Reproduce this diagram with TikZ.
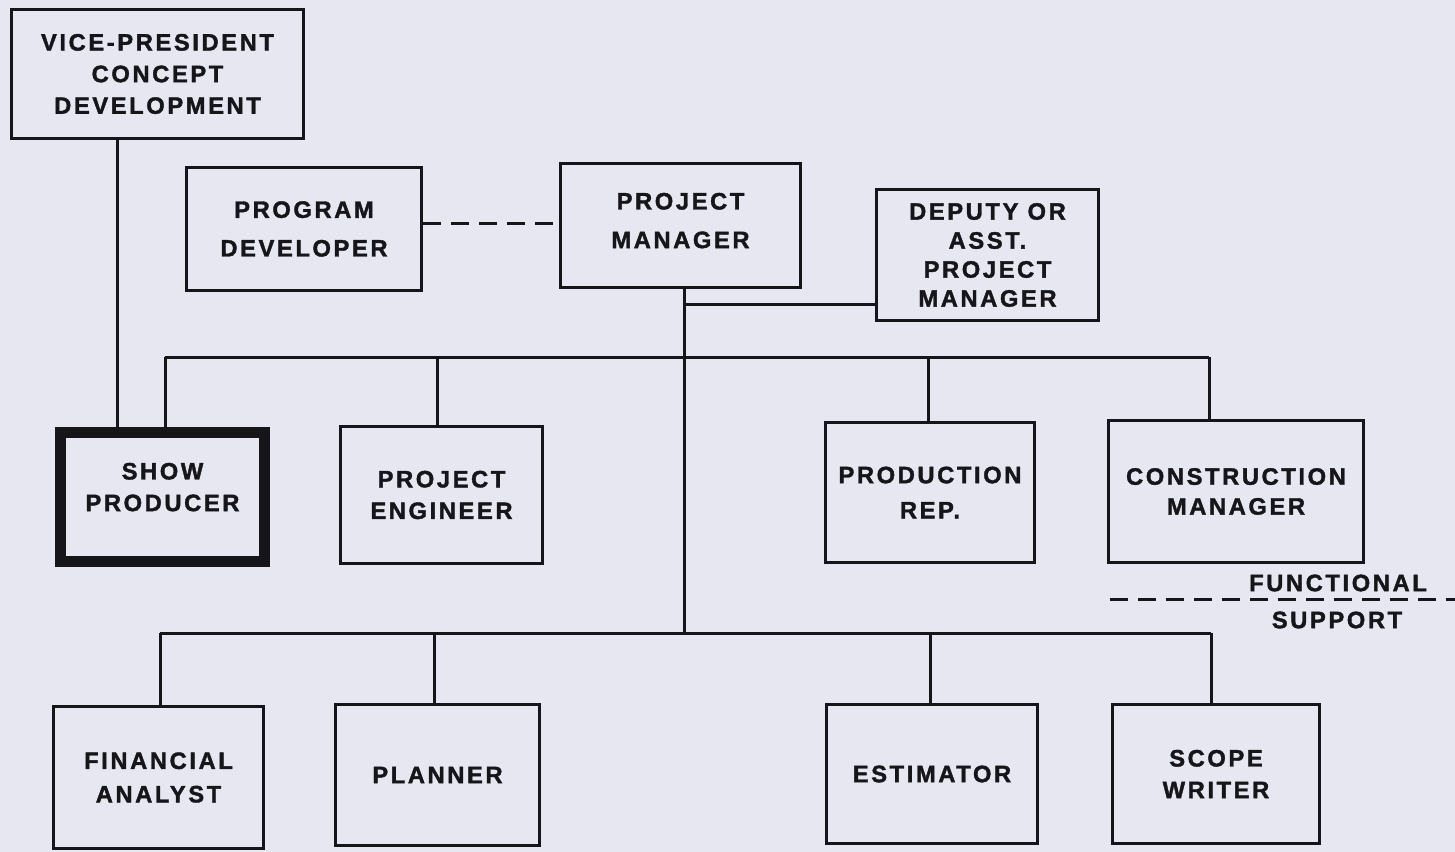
\documentclass[tikz,border=0pt]{standalone}
\usepackage{fontspec}
\setmainfont{Liberation Sans}[LetterSpace=11, BoldFeatures={FakeBold=1.6}]
\usetikzlibrary{positioning}
\definecolor{pagebg}{RGB}{230,231,241}
\definecolor{inkline}{RGB}{22,22,26}

\begin{document}
\begin{tikzpicture}[x=0.02cm, y=-0.02cm,
  post/.style={draw=inkline, line width=0.06cm, align=center, inner sep=0pt,
    font=\fontsize{13.5}{18}\selectfont\bfseries, text=inkline},
  chief/.style={post, line width=0.22cm},
  link/.style={draw=inkline, line width=0.06cm},
  dashlink/.style={link, dash pattern=on 0.36cm off 0.2cm},
  tag/.style={font=\fontsize{13.5}{18}\selectfont\bfseries, text=inkline, inner sep=0pt}]

  % page
  \fill[pagebg] (0,0) rectangle (1455,852);
  \useasboundingbox (0,0) rectangle (1455,852);

  % -- top level --
  \node[post, minimum width=5.84cm, minimum height=2.58cm] (vp) at (157.5,74)
    {VICE-PRESIDENT\\CONCEPT\\DEVELOPMENT};
  \node[post, minimum width=4.70cm, minimum height=2.46cm] (progdev) at (304,229)
    {PROGRAM\\[4pt]DEVELOPER};
  \node[post, minimum width=4.80cm, minimum height=2.48cm, text depth=0.2cm]
    (projmgr) at (680.5,225.5) {PROJECT\\[4pt]MANAGER};
  \node[post, minimum width=4.44cm, minimum height=2.62cm] (deputy) at (987.5,255)
    {DEPUTY OR\\[-1.5pt]ASST.\\[-1.5pt]PROJECT\\[-1.5pt]MANAGER};

  % -- middle row --
  \node[chief, minimum width=4.08cm, minimum height=2.58cm, text depth=0.4cm]
    (producer) at (162.5,497) {SHOW\\PRODUCER};
  \node[post, minimum width=4.04cm, minimum height=2.74cm] (projeng) at (441.5,495)
    {PROJECT\\ENGINEER};
  \node[post, minimum width=4.18cm, minimum height=2.80cm] (prodrep) at (930,492.5)
    {PRODUCTION\\[2pt]REP.};
  \node[post, minimum width=5.10cm, minimum height=2.84cm] (constr) at (1236,491.5)
    {CONSTRUCTION\\[-1pt]MANAGER};

  % -- bottom row --
  \node[post, minimum width=4.20cm, minimum height=2.84cm] (finan) at (158.5,777.5)
    {FINANCIAL\\[1pt]ANALYST};
  \node[post, minimum width=4.08cm, minimum height=2.82cm] (planner) at (437.5,775)
    {PLANNER};
  \node[post, minimum width=4.22cm, minimum height=2.78cm] (estim) at (932,774)
    {ESTIMATOR};
  \node[post, minimum width=4.14cm, minimum height=2.78cm] (scope) at (1216,774)
    {SCOPE\\WRITER};

  % bus points
  \coordinate (vpx) at (117,0);
  \coordinate (dep) at (684,304);
  \coordinate (up1) at (165,357);
  \coordinate (up2) at (437,357);
  \coordinate (up3) at (928,357);
  \coordinate (up4) at (1209,357);
  \coordinate (lo0) at (684,633);
  \coordinate (lo1) at (160,633);
  \coordinate (lo2) at (434,633);
  \coordinate (lo3) at (930,633);
  \coordinate (lo4) at (1211,633);

  % -- lines --
  \draw[link] (vpx |- vp.south) -- (vpx |- producer.north);
  \draw[dashlink] ([yshift=0.12cm]progdev.east) -- ([yshift=0.12cm]progdev.east -| projmgr.west);
  \draw[link] (lo0 |- projmgr.south) -- (lo0);
  \draw[link] (dep) -- (dep -| deputy.west);

  \draw[link] (up1) -- (up4);
  \draw[link] (up1) -- (up1 |- producer.north);
  \draw[link] (up2) -- (up2 |- projeng.north);
  \draw[link] (up3) -- (up3 |- prodrep.north);
  \draw[link] (up4) -- (up4 |- constr.north);

  \draw[link] (lo1) -- (lo4);
  \draw[link] (lo1) -- (lo1 |- finan.north);
  \draw[link] (lo2) -- (lo2 |- planner.north);
  \draw[link] (lo3) -- (lo3 |- estim.north);
  \draw[link] (lo4) -- (lo4 |- scope.north);

  % functional support
  \coordinate (fsa) at (1110,599);
  \coordinate (fsb) at (1455,599);
  \draw[dashlink] (fsa) -- (fsb);
  \node[tag] (functional) at (1338,583) {FUNCTIONAL};
  \node[tag] (support) at (1337,620) {SUPPORT};

\end{tikzpicture}
\end{document}
